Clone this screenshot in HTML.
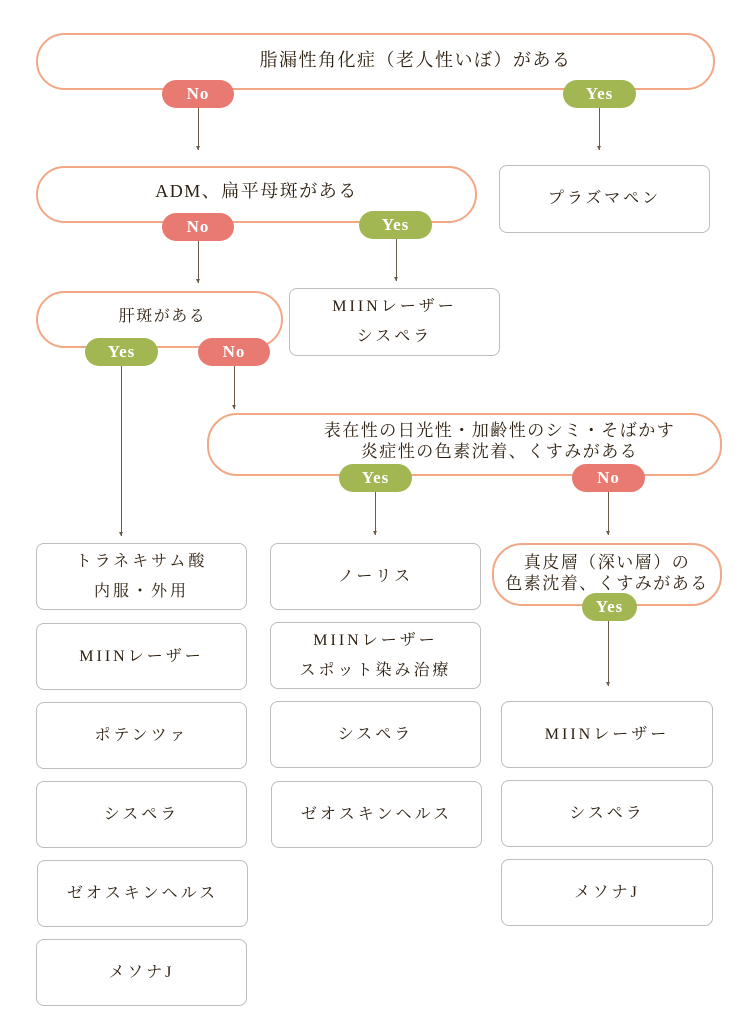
<!DOCTYPE html>
<html><head><meta charset="utf-8"><style>
body{margin:0;width:750px;height:1030px;background:#fff;position:relative;overflow:hidden;font-family:"Liberation Serif","Noto Serif CJK SC",serif;color:#2e2010}
.d{position:absolute;border:2px solid #f2a884;border-radius:30px;box-sizing:border-box;display:flex;align-items:center;justify-content:center;text-align:center;font-size:17px;letter-spacing:1.5px;line-height:21px;background:#fff}
.b{position:absolute;border:1.2px solid #bdbdbd;border-radius:8px;box-sizing:border-box;display:flex;align-items:center;justify-content:center;text-align:center;font-size:16px;letter-spacing:3px;line-height:30px;background:#fff}
.p{position:absolute;height:28px;border-radius:14px;color:#fff;font-weight:bold;font-size:17px;letter-spacing:1px;display:flex;align-items:center;justify-content:center}
.no{background:#e87a72}.yes{background:#a2b652}
.a{position:absolute;width:1px;background:#6b5a48}
.a:after{content:"";position:absolute;left:-2px;bottom:0;border-left:2.5px solid transparent;border-right:2.5px solid transparent;border-top:4px solid #6b5a48}
</style></head><body>
<div class="d" style="left:36px;top:33px;width:679px;height:57px;padding-left:80px;font-size:18px;padding-bottom:3px">脂漏性角化症（老人性いぼ）がある</div>
<div class="p no" style="left:162px;top:80px;width:72px">No</div>
<div class="p yes" style="left:563px;top:80px;width:73px">Yes</div>
<div class="a" style="left:198px;top:108px;height:42px"></div>
<div class="a" style="left:599px;top:108px;height:42px"></div>

<div class="d" style="left:36px;top:166px;width:441px;height:57px;font-size:18px;padding-bottom:6px">ADM、扁平母斑がある</div>
<div class="p no" style="left:162px;top:213px;width:72px">No</div>
<div class="p yes" style="left:359px;top:211px;width:73px">Yes</div>
<div class="b" style="left:499px;top:165px;width:211px;height:68px">プラズマペン</div>
<div class="a" style="left:198px;top:241px;height:42px"></div>
<div class="a" style="left:396px;top:239px;height:42px"></div>

<div class="d" style="left:36px;top:291px;width:247px;height:57px;font-size:16px;padding-left:6px;padding-bottom:6px">肝斑がある</div>
<div class="p yes" style="left:85px;top:338px;width:73px">Yes</div>
<div class="p no" style="left:198px;top:338px;width:72px">No</div>
<div class="b" style="left:289px;top:288px;width:211px;height:68px">MIINレーザー<br>シスペラ</div>
<div class="a" style="left:121px;top:366px;height:170px"></div>
<div class="a" style="left:234px;top:366px;height:43px"></div>

<div class="d" style="left:207px;top:413px;width:515px;height:63px;padding-left:70px;padding-bottom:8px">表在性の日光性・加齢性のシミ・そばかす<br>炎症性の色素沈着、くすみがある</div>
<div class="p yes" style="left:339px;top:464px;width:73px">Yes</div>
<div class="p no" style="left:572px;top:464px;width:73px">No</div>
<div class="a" style="left:375px;top:492px;height:43px"></div>
<div class="a" style="left:608px;top:492px;height:43px"></div>

<div class="d" style="left:492px;top:543px;width:230px;height:63px;padding-bottom:4px">真皮層（深い層）の<br>色素沈着、くすみがある</div>
<div class="p yes" style="left:582px;top:593px;width:55px">Yes</div>
<div class="a" style="left:608px;top:621px;height:65px"></div>

<div class="b" style="left:36px;top:543px;width:211px;height:67px">トラネキサム酸<br>内服・外用</div>
<div class="b" style="left:36px;top:623px;width:211px;height:67px">MIINレーザー</div>
<div class="b" style="left:36px;top:702px;width:211px;height:67px">ポテンツァ</div>
<div class="b" style="left:36px;top:781px;width:211px;height:67px">シスペラ</div>
<div class="b" style="left:37px;top:860px;width:211px;height:67px">ゼオスキンヘルス</div>
<div class="b" style="left:36px;top:939px;width:211px;height:67px">メソナJ</div>

<div class="b" style="left:270px;top:543px;width:211px;height:67px">ノーリス</div>
<div class="b" style="left:270px;top:622px;width:211px;height:67px">MIINレーザー<br>スポット染み治療</div>
<div class="b" style="left:270px;top:701px;width:211px;height:67px">シスペラ</div>
<div class="b" style="left:271px;top:781px;width:211px;height:67px">ゼオスキンヘルス</div>

<div class="b" style="left:501px;top:701px;width:212px;height:67px">MIINレーザー</div>
<div class="b" style="left:501px;top:780px;width:212px;height:67px">シスペラ</div>
<div class="b" style="left:501px;top:859px;width:212px;height:67px">メソナJ</div>
</body></html>
